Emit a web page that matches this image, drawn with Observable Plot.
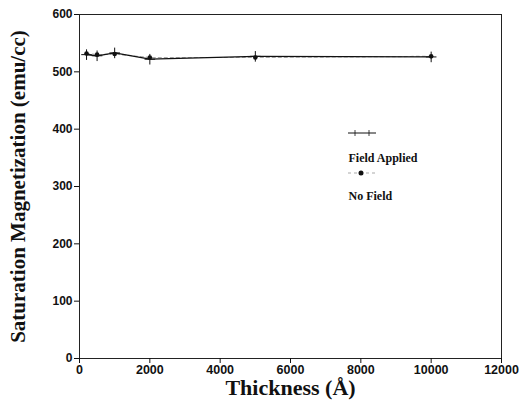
<!DOCTYPE html>
<html><head><meta charset="utf-8">
<script src="https://cdn.jsdelivr.net/npm/d3@7"></script>
<script src="https://cdn.jsdelivr.net/npm/@observablehq/plot@0.6"></script>
<style>body{margin:0;background:#fff}</style>
</head><body><div id="chart"></div>
<script>
const thickness = [200, 500, 1000, 2000, 5000, 10000];
const fieldApplied = [530, 528, 533, 522, 527, 526];
const noField = [532, 530, 531, 525, 525, 527];
const xTicks = [0, 2000, 4000, 6000, 8000, 10000, 12000];
const yTicks = [0, 100, 200, 300, 400, 500, 600];
const seriesNames = ["Field Applied", "No Field"];

const fa = thickness.map((t, i) => ({x: t, y: fieldApplied[i]}));
const nf = thickness.map((t, i) => ({x: t, y: noField[i]}));
const serif = "Liberation Serif, Times New Roman, serif";

const plot = Plot.plot({
  width: 522, height: 406,
  marginLeft: 79, marginRight: 21, marginTop: 14, marginBottom: 48,
  style: {fontFamily: "Liberation Sans, Arial, sans-serif", background: "#fff"},
  x: {domain: [0, 12000]},
  y: {domain: [0, 600]},
  marks: [
    Plot.frame({stroke: "#222", strokeWidth: 1}),
    Plot.axisX({ticks: xTicks, tickSize: 5, tickFormat: d => String(d), label: null, fontWeight: "bold", fontSize: 12.5, tickPadding: 2, stroke: "#111", fill: "#111"}),
    Plot.axisY({ticks: yTicks, tickSize: 5, tickFormat: d => String(d), label: null, fontWeight: "bold", fontSize: 12, tickPadding: 2, stroke: "#111", fill: "#111"}),
    Plot.line(nf, {x: "x", y: "y", stroke: "#aaa", strokeWidth: 1.2, strokeDasharray: "3,3"}),
    Plot.dot(nf, {x: "x", y: "y", r: 2.3, fill: "#111"}),
    Plot.line(fa, {x: "x", y: "y", stroke: "#111", strokeWidth: 1.3}),
    Plot.dot(fa, {x: "x", y: "y", symbol: "plus", r: 3.5, stroke: "#111", strokeWidth: 1}),
    Plot.text(["Thickness (Å)"], {frameAnchor: "bottom", dy: 36, fontFamily: serif, fontWeight: "bold", fontSize: 22, fill: "#111"}),
    Plot.text(["Saturation Magnetization (emu/cc)"], {frameAnchor: "left", dx: -61, rotate: -90, textAnchor: "middle", fontFamily: serif, fontWeight: "bold", fontSize: 21, fill: "#111"}),
    Plot.text([seriesNames[0]], {frameAnchor: "top-left", dx: 269, dy: 139, textAnchor: "start", fontFamily: serif, fontWeight: "bold", fontSize: 12, fill: "#111"}),
    Plot.text([seriesNames[1]], {frameAnchor: "top-left", dx: 269, dy: 177, textAnchor: "start", fontFamily: serif, fontWeight: "bold", fontSize: 12, fill: "#111"})
  ]
});

// legend samples
const svg = d3.select(plot);
const g = svg.append("g");
g.append("line").attr("x1", 348).attr("x2", 376).attr("y1", 133).attr("y2", 133).attr("stroke", "#111").attr("stroke-width", 1);
[355, 369].forEach(x => g.append("line").attr("x1", x).attr("x2", x).attr("y1", 130).attr("y2", 136).attr("stroke", "#111").attr("stroke-width", 0.8));
g.append("line").attr("x1", 348).attr("x2", 376).attr("y1", 173).attr("y2", 173).attr("stroke", "#aaa").attr("stroke-width", 1.2).attr("stroke-dasharray", "3,3");
g.append("circle").attr("cx", 361).attr("cy", 173).attr("r", 2.5).attr("fill", "#111");

document.getElementById("chart").appendChild(plot);
</script>
</body></html>
